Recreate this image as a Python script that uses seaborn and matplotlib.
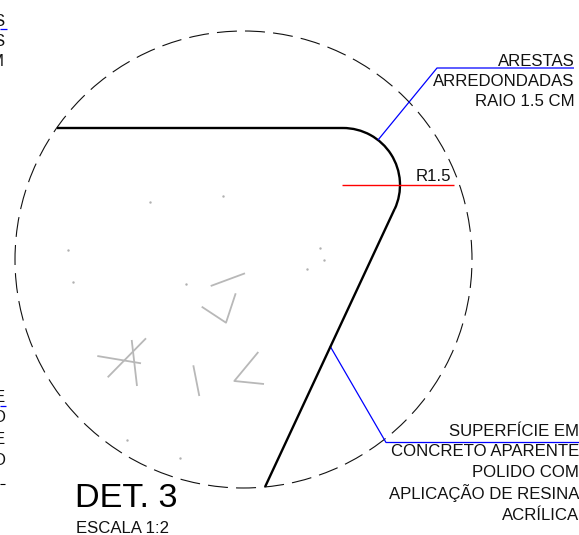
import matplotlib
matplotlib.use("Agg")
import matplotlib.pyplot as plt
from matplotlib.patches import Arc, Circle
import pandas as pd
import seaborn as sns

# drawing is in picture units, x to the right and y downwards
circle_x, circle_y, circle_r = 243.5, 259.5, 228.5
fillet_x, fillet_y, fillet_r = 343, 185, 57

profile_top_x = [57, 343]
profile_top_y = [128, 128]
profile_side_x = [394.6, 265]
profile_side_y = [209, 487]

leader_top_x = [378, 437, 574]
leader_top_y = [140, 68, 68]
leader_bottom_x = [330, 386, 579]
leader_bottom_y = [346, 442.5, 442.5]
dim_x = [342, 454]
dim_y = [184.5, 184.5]
left_blue_x = [[0, 6.5], [0, 6]]
left_blue_y = [[29, 29], [406, 406]]

stroke_x = [[210.7, 245], [235.7, 226, 201.7], [146, 107.7], [131.7, 137],
            [97.3, 141], [193.3, 199.3], [258.3, 234.3, 264]]
stroke_y = [[286, 273.3], [293.3, 322.7, 306.7], [338.3, 377.3], [340, 386],
            [356, 363.3], [365.3, 396], [352, 381, 384]]
speck_x = [68, 150, 223, 73, 186, 127.3, 180.3, 319.7, 324.3, 306.7]
speck_y = [249.7, 202.3, 196, 281.7, 284, 440, 457.7, 248, 260.3, 268.7]

top_note = ["ARESTAS", "ARREDONDADAS", "RAIO 1.5 CM"]
top_note_y = [65.5, 86, 106.5]
bottom_note = ["SUPERFÍCIE EM", "CONCRETO APARENTE", "POLIDO COM",
               "APLICAÇÃO DE RESINA", "ACRÍLICA"]
bottom_note_y = [436, 456.5, 477, 499, 520.5]
left_top = ["S", "S", "M"]
left_top_y = [26, 46.5, 66.5]
left_bottom = ["E", "O", "E", "O"]
left_bottom_y = [402.5, 422.5, 444, 465]


def segments(xs, ys):
    rows = []
    for i, (seg_x, seg_y) in enumerate(zip(xs, ys)):
        for x, y in zip(seg_x, seg_y):
            rows.append({"seg": i, "x": x, "y": y})
    return pd.DataFrame(rows)


def draw_lines(ax, xs, ys, color, width):
    sns.lineplot(data=segments(xs, ys), x="x", y="y", units="seg", estimator=None,
                 sort=False, color=color, linewidth=width, ax=ax,
                 solid_capstyle="butt", legend=False)


sns.set_theme(style="white")
plt.rcParams["font.family"] = ["Liberation Sans", "DejaVu Sans"]
plt.rcParams["lines.scale_dashes"] = False

fig = plt.figure(figsize=(5.79, 5.35), dpi=100)
ax = fig.add_axes([0, 0, 1, 1])

ax.add_patch(Circle((circle_x, circle_y), circle_r, fill=False, edgecolor="#111111",
                    linewidth=0.8, linestyle=(19.2, (14.4, 5.87))))

draw_lines(ax, stroke_x, stroke_y, "#b8b8b8", 1.3)
sns.scatterplot(x=speck_x, y=speck_y, color="#b0b0b0", s=3, linewidth=0, ax=ax)

draw_lines(ax, [leader_top_x, leader_bottom_x] + left_blue_x,
           [leader_top_y, leader_bottom_y] + left_blue_y, "#0000ff", 0.9)
draw_lines(ax, [dim_x], [dim_y], "#ff0000", 1.0)
draw_lines(ax, [profile_top_x, profile_side_x], [profile_top_y, profile_side_y], "black", 1.7)
ax.add_patch(Arc((fillet_x, fillet_y), 2 * fillet_r, 2 * fillet_r, theta1=-90, theta2=25,
                 color="black", linewidth=1.7))

# a short black tick at the left edge
draw_lines(ax, [[0, 5]], [[484, 484]], "black", 0.8)

note_size = 12.1
for label, y in zip(top_note, top_note_y):
    ax.text(574.5, y, label, ha="right", va="baseline", fontsize=note_size, color="#111111")
for label, y in zip(bottom_note, bottom_note_y):
    ax.text(579, y, label, ha="right", va="baseline", fontsize=note_size, color="#111111")
for label, y in zip(left_top, left_top_y):
    ax.text(4, y, label, ha="right", va="baseline", fontsize=note_size, color="#111111")
for label, y in zip(left_bottom, left_bottom_y):
    ax.text(5, y, label, ha="right", va="baseline", fontsize=note_size, color="#111111")
ax.text(451, 181, "R1.5", ha="right", va="baseline", fontsize=note_size, color="#111111")
ax.text(75, 507, "DET. 3", ha="left", va="baseline", fontsize=24.7, color="black")
ax.text(76, 533, "ESCALA 1:2", ha="left", va="baseline", fontsize=note_size, color="#111111")

ax.set_xlim(0, 579)
ax.set_ylim(535, 0)
ax.axis("off")

fig.savefig("out.png", dpi=100, facecolor="white")
